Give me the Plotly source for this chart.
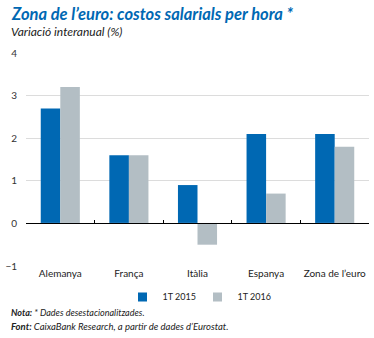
import plotly.graph_objects as go

categories = ["Alemanya", "França", "Itàlia", "Espanya", "Zona de l’euro"]
t2015 = [2.7, 1.6, 0.9, 2.1, 2.1]
t2016 = [3.2, 1.6, -0.5, 0.7, 1.8]
series_names = ["1T 2015", "1T 2016"]
y_ticks = [-1, 0, 1, 2, 3, 4]

BLUE = "#0068b3"
GREY = "#b3bec4"
FONT = "Lato"

fig = go.Figure()
fig.add_trace(go.Bar(x=categories, y=t2015, name=series_names[0], showlegend=False,
                     marker=dict(color=BLUE, line=dict(width=0))))
fig.add_trace(go.Bar(x=categories, y=t2016, name=series_names[1], showlegend=False,
                     marker=dict(color=GREY, line=dict(width=0))))
# legend-only entries with small square swatches
for name, col in zip(series_names, [BLUE, GREY]):
    fig.add_trace(go.Scatter(x=[None], y=[None], mode="markers", name=name,
                             marker=dict(symbol="square", size=9, color=col)))
# invisible trace carrying the category labels at the bottom
fig.add_trace(go.Bar(x=categories, y=[0]*len(categories), xaxis="x2", showlegend=False,
                     hoverinfo="skip", marker=dict(color="rgba(0,0,0,0)")))

fig.update_layout(
    width=374, height=338,
    margin=dict(l=20, r=5, t=53, b=72),
    paper_bgcolor="white", plot_bgcolor="white",
    barmode="group", bargap=0.43, bargroupgap=0,
    font=dict(family=FONT, size=10, color="#333333"),
    showlegend=True,
    legend=dict(orientation="h", x=0.5, xanchor="center", y=-0.145, yanchor="middle",
                font=dict(size=9, color="#222222"), itemwidth=30, traceorder="normal",
                entrywidth=30),
    xaxis=dict(anchor="free", position=0.2, showline=True, linecolor="#000000", linewidth=1,
               ticks="inside", tickson="boundaries", ticklen=3, tickcolor="#000000",
               showticklabels=False, showgrid=False, zeroline=False,
               fixedrange=True),
    xaxis2=dict(overlaying="x", matches="x", anchor="y", side="bottom", showline=False,
                showgrid=False, zeroline=False, ticks="", tickfont=dict(size=10, color="#222222")),
    yaxis=dict(range=[-1, 4], tickvals=y_ticks, showgrid=True, gridcolor="#dcdcdc", gridwidth=1,
               zeroline=False, showline=False, ticks="", ticklabelstandoff=8,
               tickfont=dict(size=10, color="#333333")),
    annotations=[
        dict(text="<b><i>Zona de l’euro: costos salarials per hora *</i></b>", xref="paper", yref="paper",
             x=-0.049, y=1.183, xanchor="left", yanchor="middle", showarrow=False,
             font=dict(size=16.5, color=BLUE, family=FONT)),
        dict(text="<i>Variació interanual (%)</i>", xref="paper", yref="paper",
             x=-0.049, y=1.103, xanchor="left", yanchor="middle", showarrow=False,
             font=dict(size=12, color="#222222", family=FONT)),
        dict(text="<b><i>Nota:</i></b><i> * Dades desestacionalitzades.</i>", xref="paper", yref="paper",
             x=-0.049, y=-0.22, xanchor="left", yanchor="middle", showarrow=False,
             font=dict(size=9, color="#222222", family=FONT)),
        dict(text="<b><i>Font:</i></b><i> CaixaBank Research, a partir de dades d’Eurostat.</i>", xref="paper", yref="paper",
             x=-0.049, y=-0.286, xanchor="left", yanchor="middle", showarrow=False,
             font=dict(size=9.5, color="#222222", family=FONT)),
    ],
)

fig.write_html("out.html")
